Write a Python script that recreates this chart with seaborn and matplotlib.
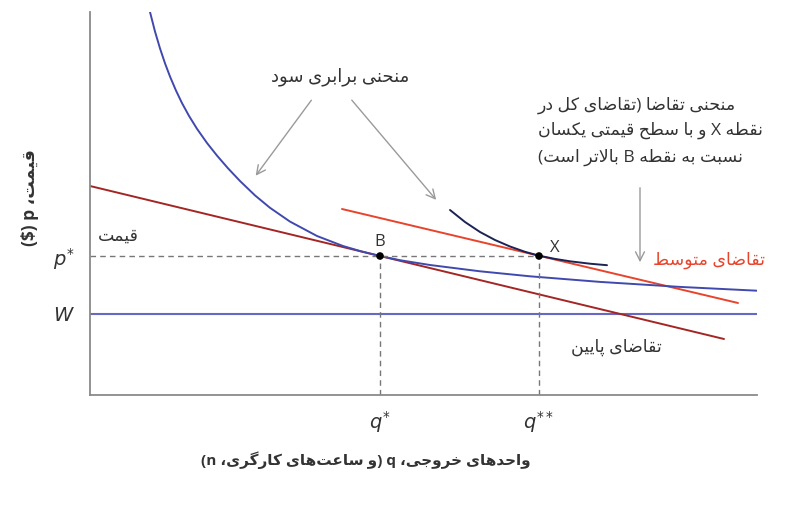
"""Isoprofit curves and demand lines (Persian labels) recreated with seaborn."""

import re

import matplotlib.pyplot as plt
import seaborn as sns

sns.set_theme(style="white")
plt.rcParams["font.family"] = ["Open Sans", "DejaVu Sans"]
plt.rcParams["mathtext.fontset"] = "dejavusans"

# ---- data (arbitrary units: quantity 0..667, price 0..383) ----
Q_MAX = 667
P_MAX = 383
Q_STAR = 290
Q_STAR2 = 449
P_STAR = 139
WAGE = 81

iso_low_q = [60, 65, 70, 75, 80, 86, 92, 99, 107, 117, 127, 138, 150, 165, 180, 200,
             227, 253, 271, 290, 310, 340, 390, 440, 510, 590, 667]
iso_low_p = [383, 363.5, 346.6, 331.7, 318.5, 304.4, 291.9, 279.1, 266.2, 252, 239.4,
             226.7, 214, 199.6, 187.2, 173.4, 159, 149, 143.7, 139, 134.8, 130, 123.7,
             118.7, 113.1, 108.1, 104.3]

iso_high_q = [360, 375, 390, 405, 420, 435, 449, 465, 480, 500, 517]
iso_high_p = [185, 173, 163, 155, 148.5, 143.2, 139.3, 136.1, 133.7, 131.3, 129.8]

low_demand_q = [0, 634]
low_demand_p = [209, 56]
mid_demand_q = [252, 648]
mid_demand_p = [186, 92]
wage_q = [0, Q_MAX]
wage_p = [WAGE, WAGE]

point_q = [Q_STAR, Q_STAR2]
point_p = [P_STAR, P_STAR]
point_names = ["B", "X"]

x_ticks = [0, Q_STAR, Q_STAR2, Q_MAX]
x_tick_labels = ["", r"$q^{*}$", r"$q^{**}$", ""]
y_ticks = [0, WAGE, P_STAR, P_MAX]
y_tick_labels = ["", r"$W$", r"$p^{*}$", ""]

ISO_LABEL = "منحنی برابری سود"
DEMAND_NOTE = ["منحنی تقاضا (تقاضای کل در",
               "نقطه X و با سطح قیمتی یکسان",
               "نسبت به نقطه B بالاتر است)"]
MID_LABEL = "تقاضای متوسط"
LOW_LABEL = "تقاضای پایین"
PRICE_LABEL = "قیمت"
Y_LABEL = "قیمت، p ($)"
X_LABEL = "واحدهای خروجی، q (و ساعت\u200cهای کارگری، n)"

BLUE = "#4049ae"
WAGE_BLUE = "#6568c4"
NAVY = "#1c2355"
DARK_RED = "#a32624"
RED = "#e8432b"
GREY = "#8a8a8a"
TEXT = "#333333"
ARROW = "#9a9a9a"

# ---- minimal Persian shaping (presentation forms) + RTL ordering ----
FORMS = {
    "ا": ("\uFE8D", "\uFE8E", None, None),
    "ب": ("\uFE8F", "\uFE90", "\uFE91", "\uFE92"),
    "پ": ("\uFB56", "\uFB57", "\uFB58", "\uFB59"),
    "ت": ("\uFE95", "\uFE96", "\uFE97", "\uFE98"),
    "ج": ("\uFE9D", "\uFE9E", "\uFE9F", "\uFEA0"),
    "ح": ("\uFEA1", "\uFEA2", "\uFEA3", "\uFEA4"),
    "خ": ("\uFEA5", "\uFEA6", "\uFEA7", "\uFEA8"),
    "د": ("\uFEA9", "\uFEAA", None, None),
    "ر": ("\uFEAD", "\uFEAE", None, None),
    "س": ("\uFEB1", "\uFEB2", "\uFEB3", "\uFEB4"),
    "ض": ("\uFEBD", "\uFEBE", "\uFEBF", "\uFEC0"),
    "ط": ("\uFEC1", "\uFEC2", "\uFEC3", "\uFEC4"),
    "ع": ("\uFEC9", "\uFECA", "\uFECB", "\uFECC"),
    "ق": ("\uFED5", "\uFED6", "\uFED7", "\uFED8"),
    "ک": ("\uFB8E", "\uFB8F", "\uFB90", "\uFB91"),
    "گ": ("\uFB92", "\uFB93", "\uFB94", "\uFB95"),
    "ل": ("\uFEDD", "\uFEDE", "\uFEDF", "\uFEE0"),
    "م": ("\uFEE1", "\uFEE2", "\uFEE3", "\uFEE4"),
    "ن": ("\uFEE5", "\uFEE6", "\uFEE7", "\uFEE8"),
    "ه": ("\uFEE9", "\uFEEA", "\uFEEB", "\uFEEC"),
    "و": ("\uFEED", "\uFEEE", None, None),
    "ی": ("\uFBFC", "\uFBFD", "\uFBFE", "\uFBFF"),
}


def shape(s: str) -> str:
    out = []
    i = 0
    while i < len(s):
        c = s[i]
        if c not in FORMS:
            if c != "\u200c":
                out.append(c)
            i += 1
            continue
        prev_joins = i > 0 and s[i - 1] in FORMS and FORMS[s[i - 1]][2] is not None
        if c == "ل" and i + 1 < len(s) and s[i + 1] == "ا":
            out.append("\uFEFC" if prev_joins else "\uFEFB")
            i += 2
            continue
        iso, fin, ini, med = FORMS[c]
        next_joins = ini is not None and i + 1 < len(s) and s[i + 1] in FORMS
        if prev_joins and next_joins:
            out.append(med)
        elif prev_joins:
            out.append(fin)
        elif next_joins:
            out.append(ini)
        else:
            out.append(iso)
        i += 1
    return "".join(out)


def rtl(s: str) -> str:
    units = re.findall(r"[A-Za-z0-9]+|.", shape(s), re.S)
    mirror = {"(": ")", ")": "("}
    return "".join(mirror.get(u, u) for u in reversed(units))


# ---- figure ----
fig = plt.figure(figsize=(8.1, 5.07), dpi=100)
ax = fig.add_axes([90 / 810, 1 - 395 / 507, 667 / 810, 383 / 507])

sns.lineplot(x=wage_q, y=wage_p, color=WAGE_BLUE, lw=1.5, ax=ax)
sns.lineplot(x=low_demand_q, y=low_demand_p, color=DARK_RED, lw=1.4, ax=ax)
sns.lineplot(x=mid_demand_q, y=mid_demand_p, color=RED, lw=1.4, ax=ax)
sns.lineplot(x=iso_low_q, y=iso_low_p, sort=False, estimator=None, color=BLUE, lw=1.4, ax=ax)
sns.lineplot(x=iso_high_q, y=iso_high_p, sort=False, estimator=None, color=NAVY, lw=1.4, ax=ax)

# guide lines to p*, q*, q**
ax.plot([0, Q_STAR2], [P_STAR, P_STAR], ls=(0, (4, 3)), color="#777777", lw=1)
for q in point_q:
    ax.plot([q, q], [0, P_STAR], ls=(0, (4, 3)), color="#777777", lw=1)

sns.scatterplot(x=point_q, y=point_p, color="black", s=30, zorder=5, ax=ax, edgecolor="none")
ax.text(point_q[0], P_STAR + 14, point_names[0], ha="center", va="center", fontsize=12, color=TEXT)
ax.text(point_q[1] + 16, P_STAR + 8, point_names[1], ha="center", va="center", fontsize=12, color=TEXT)

ax.set_xlim(0, Q_MAX)
ax.set_ylim(0, P_MAX)
ax.set_xticks(x_ticks, x_tick_labels)
ax.set_yticks(y_ticks, y_tick_labels)
ax.tick_params(axis="both", length=6, width=1, color=GREY, labelsize=14, labelcolor=TEXT)
ax.tick_params(axis="x", pad=4)
ax.tick_params(axis="y", pad=5)
for side in ["top", "right"]:
    ax.spines[side].set_visible(False)
for side in ["left", "bottom"]:
    ax.spines[side].set_color(GREY)
    ax.spines[side].set_linewidth(1.3)
ax.set_xlabel("")
ax.set_ylabel("")

# annotations
ax.text(250, 318, rtl(ISO_LABEL), ha="center", va="center", fontsize=13, color=TEXT)
arrow = dict(arrowstyle="->", color=ARROW, lw=1, mutation_scale=16)
ax.annotate("", xy=(164, 217), xytext=(223, 297), arrowprops=arrow)
ax.annotate("", xy=(348, 193), xytext=(260, 297), arrowprops=arrow)
ax.annotate("", xy=(550, 130), xytext=(550, 210), arrowprops=arrow)

for line, y in zip(DEMAND_NOTE, [290, 265, 238]):
    ax.text(448, y, rtl(line), ha="left", va="center", fontsize=12.5, color=TEXT)

ax.text(675, 135, rtl(MID_LABEL), ha="right", va="center", fontsize=12.5, color=RED, clip_on=False)
ax.text(526, 48, rtl(LOW_LABEL), ha="center", va="center", fontsize=12.5, color=TEXT)
ax.text(28, 158, rtl(PRICE_LABEL), ha="center", va="center", fontsize=12.5, color=TEXT)

fig.text(30 / 810, 1 - 198 / 507, rtl(Y_LABEL), rotation=90, ha="center", va="center",
         fontsize=12.5, fontweight="bold", color=TEXT)
fig.text(366 / 810, 1 - 460 / 507, rtl(X_LABEL), ha="center", va="center",
         fontsize=11, fontweight="bold", color=TEXT)

fig.savefig("out.png", dpi=100, facecolor="white")
